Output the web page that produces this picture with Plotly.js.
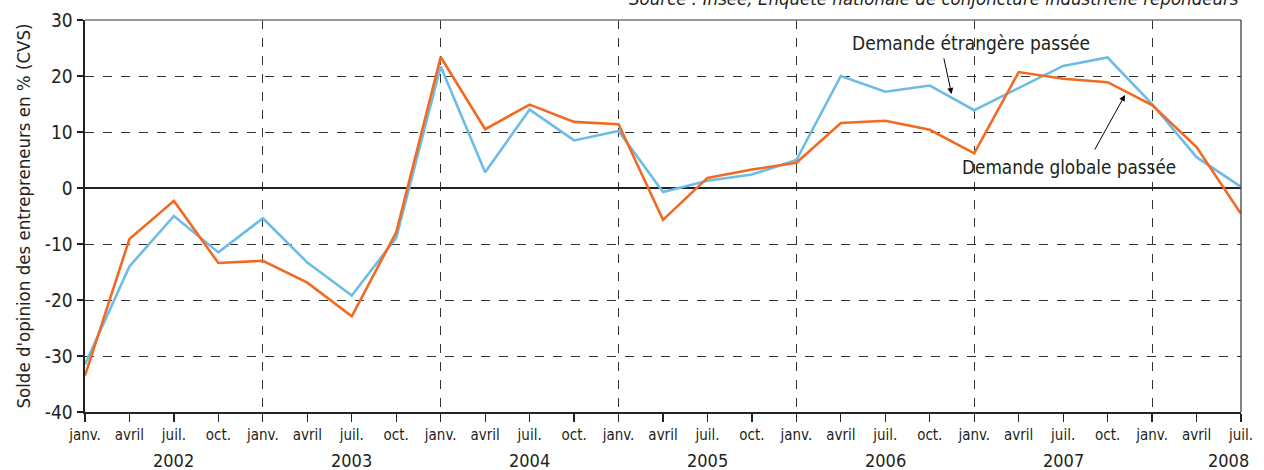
<!DOCTYPE html>
<html>
<head>
<meta charset="utf-8">
<script src="https://cdn.plot.ly/plotly-3.0.1.min.js"></script>
<style>
html,body{margin:0;padding:0;background:#fff;}
#chart{width:1264px;height:470px;}
</style>
</head>
<body>
<div id="chart"></div>
<script>
// Quarter labels (janv. 2002 ... juil. 2008)
const quarterLabels = [
  'janv.','avril','juil.','oct.',
  'janv.','avril','juil.','oct.',
  'janv.','avril','juil.','oct.',
  'janv.','avril','juil.','oct.',
  'janv.','avril','juil.','oct.',
  'janv.','avril','juil.','oct.',
  'janv.','avril','juil.'
];
const years = ['2002','2003','2004','2005','2006','2007','2008'];

// Demande globale passée (orange)
const demandeGlobale = [
  -33.5, -9.1, -2.3, -13.4,
  -13.0, -16.9, -22.9, -7.9,
  23.4, 10.5, 14.9, 11.8,
  11.4, -5.7, 1.8, 3.3,
  4.5, 11.6, 12.0, 10.4,
  6.2, 20.7, 19.5, 18.9,
  14.8, 7.3, -4.6
];
// Demande étrangère passée (bleu)
const demandeEtrangere = [
  -31.5, -14.0, -5.0, -11.5,
  -5.4, -13.3, -19.2, -8.9,
  21.7, 2.8, 14.0, 8.5,
  10.2, -0.7, 1.3, 2.4,
  5.0, 20.0, 17.2, 18.3,
  13.9, 17.9, 21.8, 23.3,
  15.0, 5.5, 0.2
];

const idx = quarterLabels.map((_, i) => i);
const yearIdx = years.map((_, i) => i * 4 + 2);           // juil. of each year
const janvIdx = years.slice(1).map((_, i) => (i + 1) * 4); // year boundaries

const FONT = '"Liberation Sans Narrow", "DejaVu Sans Condensed", "Roboto Condensed", Arial, sans-serif';
const TXT = '#231f20';

const traces = [
  {
    x: idx, y: demandeEtrangere, type: 'scatter', mode: 'lines',
    line: {color: '#6dbce6', width: 2.6}, name: 'Demande étrangère passée',
    hoverinfo: 'skip'
  },
  {
    x: idx, y: demandeGlobale, type: 'scatter', mode: 'lines',
    line: {color: '#f26a21', width: 2.6}, name: 'Demande globale passée',
    hoverinfo: 'skip'
  }
];

const annotations = years.map((yr, i) => ({
  x: yearIdx[i], y: 0, xref: 'x', yref: 'paper',
  text: yr, showarrow: false, yanchor: 'top', yshift: -36,
  xshift: i === years.length - 1 ? -13 : 0,
  font: {family: FONT, size: 18, color: TXT}
}));

annotations.push(
  {
    x: 1, y: 1, xref: 'paper', yref: 'paper', xanchor: 'right', yanchor: 'bottom',
    yshift: 9, showarrow: false,
    text: '<i>Source : Insee, Enquête nationale de conjoncture industrielle répondeurs</i>',
    font: {family: FONT, size: 18.5, color: TXT}
  },
  {
    x: 19.93, y: 25.9, xref: 'x', yref: 'y', showarrow: false,
    text: 'Demande étrangère passée',
    font: {family: FONT, size: 19, color: TXT}
  },
  {
    x: 22.13, y: 3.6, xref: 'x', yref: 'y', showarrow: false,
    text: 'Demande globale passée',
    font: {family: FONT, size: 18.8, color: TXT}
  },
  {
    x: 19.49, y: 16.8, xref: 'x', yref: 'y', text: '',
    showarrow: true, arrowhead: 2, arrowsize: 1.2, arrowwidth: 1, arrowcolor: '#000',
    ax: -8, ay: -37
  },
  {
    x: 23.39, y: 16.6, xref: 'x', yref: 'y', text: '',
    showarrow: true, arrowhead: 2, arrowsize: 1.2, arrowwidth: 1, arrowcolor: '#000',
    ax: -31, ay: 56
  }
);

const layout = {
  width: 1264, height: 470,
  margin: {l: 85, r: 23, t: 20, b: 58},
  paper_bgcolor: '#fff', plot_bgcolor: '#fff',
  showlegend: false,
  font: {family: FONT, color: TXT},
  xaxis: {
    range: [0, 26], tickmode: 'array', tickvals: idx, ticktext: quarterLabels,
    ticks: 'outside', ticklen: 8, tickwidth: 1.2, tickcolor: '#222',
    showgrid: false, zeroline: false,
    showline: true, linecolor: '#222', linewidth: 1.5,
    tickfont: {family: FONT, size: 15, color: TXT},
    fixedrange: true
  },
  xaxis2: {
    overlaying: 'x', range: [0, 26], tickmode: 'array', tickvals: janvIdx,
    showticklabels: false, ticks: '', showgrid: true,
    gridcolor: '#333', griddash: 'dash', gridwidth: 1,
    zeroline: false, showline: false, side: 'bottom'
  },
  yaxis: {
    range: [-40, 30], tickmode: 'array', tickvals: [-40,-30,-20,-10,0,10,20,30],
    ticktext: ['-40','-30','-20','-10','0','10','20','30'],
    ticks: 'outside', ticklen: 6, tickwidth: 1.2, tickcolor: '#222',
    showgrid: true, gridcolor: '#333', griddash: 'dash', gridwidth: 1,
    zeroline: true, zerolinecolor: '#222', zerolinewidth: 1.2,
    showline: true, linecolor: '#222', linewidth: 2.5,
    tickfont: {family: FONT, size: 19, color: TXT},
    title: {text: "Solde d'opinion des entrepreneurs en % (CVS)", standoff: 10,
            font: {family: FONT, size: 18.5, color: TXT}},
    fixedrange: true
  },
  shapes: [
    {type: 'line', xref: 'paper', yref: 'paper', x0: 0, x1: 1, y0: 1, y1: 1,
     line: {color: '#777', width: 1.5}},
    {type: 'line', xref: 'paper', yref: 'paper', x0: 1, x1: 1, y0: 0, y1: 1,
     line: {color: '#333', width: 1.2}}
  ],
  annotations: annotations
};

// dummy trace to activate xaxis2 gridlines
traces.unshift({x: [0], y: [0], xaxis: 'x2', yaxis: 'y', mode: 'markers',
  marker: {opacity: 0}, hoverinfo: 'skip', showlegend: false});

Plotly.newPlot('chart', traces, layout, {displayModeBar: false, staticPlot: true});
</script>
</body>
</html>
